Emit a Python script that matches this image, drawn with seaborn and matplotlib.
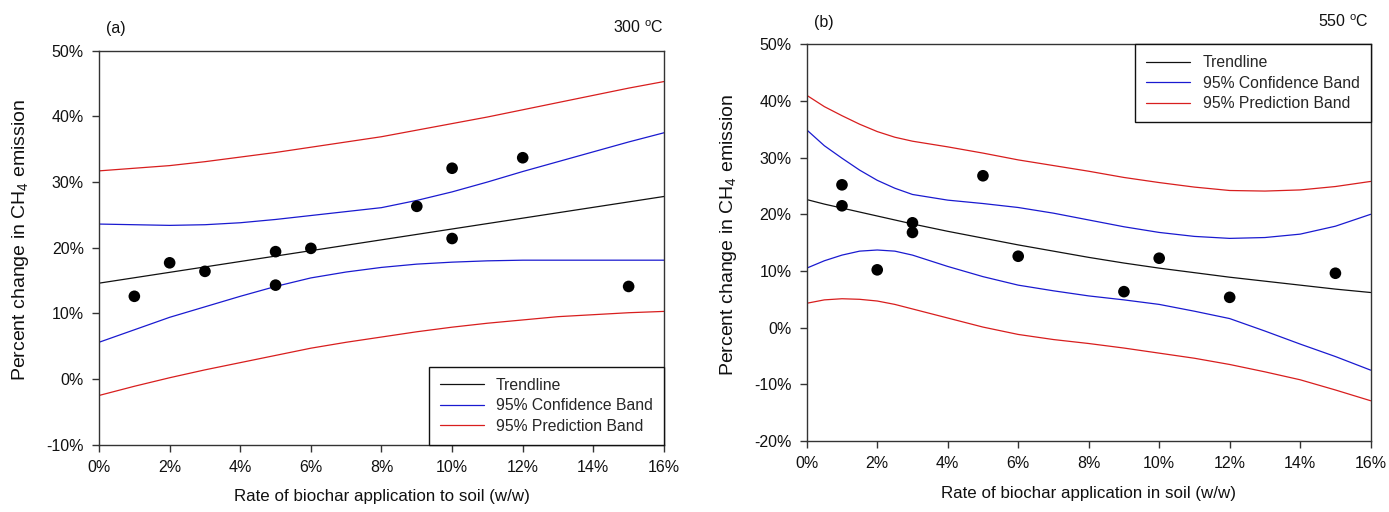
import numpy as np
import pandas as pd
import matplotlib
matplotlib.use("Agg")
import matplotlib.pyplot as plt
import seaborn as sns
from matplotlib.ticker import FuncFormatter

# ---------------- data: panel (a) 300 °C ----------------
a_pts_x = [1, 2, 3, 5, 5, 6, 9, 10, 10, 12, 15]
a_pts_y = [12.6, 17.7, 16.4, 19.4, 14.3, 19.9, 26.3, 32.1, 21.4, 33.7, 14.1]

a_trend_x = [0, 16]
a_trend_y = [14.6, 27.8]

a_band_x = [0, 1, 2, 3, 4, 5, 6, 7, 8, 9, 10, 11, 12, 13, 14, 15, 16]
a_conf_up = [23.6, 23.5, 23.4, 23.5, 23.8, 24.3, 24.9, 25.5, 26.1, 27.2, 28.5, 30.0, 31.6, 33.1, 34.6, 36.1, 37.5]
a_conf_lo = [5.6, 7.5, 9.4, 11.0, 12.6, 14.1, 15.4, 16.3, 17.0, 17.5, 17.8, 18.0, 18.1, 18.1, 18.1, 18.1, 18.1]
a_pred_up = [31.7, 32.1, 32.5, 33.1, 33.8, 34.5, 35.3, 36.1, 36.9, 37.9, 38.9, 39.9, 41.0, 42.1, 43.2, 44.3, 45.3]
a_pred_lo = [-2.5, -1.1, 0.2, 1.4, 2.5, 3.6, 4.7, 5.6, 6.4, 7.2, 7.9, 8.5, 9.0, 9.5, 9.8, 10.1, 10.3]

# ---------------- data: panel (b) 550 °C ----------------
b_pts_x = [1, 1, 2, 3, 3, 5, 6, 9, 10, 12, 15]
b_pts_y = [25.2, 21.5, 10.2, 18.5, 16.8, 26.8, 12.6, 6.35, 12.25, 5.35, 9.6]

b_band_x = [0, 0.5, 1, 1.5, 2, 2.5, 3, 4, 5, 6, 7, 8, 9, 10, 11, 12, 13, 14, 15, 16]
b_trend = [22.6, 21.8, 21.1, 20.4, 19.7, 19.0, 18.3, 17.0, 15.8, 14.6, 13.5, 12.4, 11.4, 10.5, 9.7, 8.9, 8.2, 7.5, 6.8, 6.2]
b_conf_up = [34.9, 32.1, 29.9, 27.8, 26.0, 24.6, 23.5, 22.5, 21.9, 21.2, 20.2, 19.0, 17.8, 16.8, 16.1, 15.75, 15.9, 16.5, 17.9, 20.0]
b_conf_lo = [10.5, 11.8, 12.8, 13.5, 13.7, 13.5, 12.8, 10.8, 9.0, 7.5, 6.5, 5.6, 4.9, 4.1, 2.9, 1.6, -0.6, -2.9, -5.1, -7.5]
b_pred_up = [41.0, 39.0, 37.4, 35.9, 34.6, 33.6, 32.9, 31.9, 30.8, 29.6, 28.6, 27.6, 26.5, 25.6, 24.8, 24.2, 24.1, 24.3, 24.9, 25.8]
b_pred_lo = [4.3, 4.9, 5.1, 5.0, 4.7, 4.1, 3.3, 1.7, 0.1, -1.2, -2.1, -2.8, -3.6, -4.5, -5.4, -6.5, -7.8, -9.2, -11.0, -12.9]

legend_labels = ["Trendline", "95% Confidence Band", "95% Prediction Band"]
x_ticks = [0, 2, 4, 6, 8, 10, 12, 14, 16]

# ---------------- style ----------------
sns.set_style("ticks")
FAM = ["Liberation Sans", "DejaVu Sans"]
plt.rcParams["font.family"] = FAM
plt.rcParams["mathtext.fontset"] = "custom"
plt.rcParams["mathtext.rm"] = "Liberation Sans"
plt.rcParams["mathtext.it"] = "Liberation Sans:italic"

BLACK = "#111111"
BLUE = "#1a1ad0"
RED = "#d81e1e"
SPINE = "#333333"

fig = plt.figure(figsize=(13.89, 5.12), dpi=100)
axA = fig.add_axes([0.0713, 0.1314, 0.4067, 0.7696])
axB = fig.add_axes([0.5808, 0.1387, 0.4060, 0.7748])

pct = FuncFormatter(lambda v, p: f"{v:.0f}%")


def draw(ax, px, py, tx, ty, bx, cu, cl, pu, pl, ylim, yticks, xlabel, legloc):
    lw = 0.9
    sns.lineplot(x=tx, y=ty, ax=ax, color=BLACK, lw=lw, label=legend_labels[0])
    sns.lineplot(x=bx, y=cu, ax=ax, color=BLUE, lw=lw, label=legend_labels[1])
    sns.lineplot(x=bx, y=cl, ax=ax, color=BLUE, lw=lw, label="_nolegend_")
    sns.lineplot(x=bx, y=pu, ax=ax, color=RED, lw=lw, label=legend_labels[2])
    sns.lineplot(x=bx, y=pl, ax=ax, color=RED, lw=lw, label="_nolegend_")
    sns.scatterplot(x=px, y=py, ax=ax, color="black", s=70, edgecolor="none",
                    zorder=5, label="_nolegend_")
    ax.set_xlim(0, 16)
    ax.set_ylim(*ylim)
    ax.set_xticks(x_ticks)
    ax.set_yticks(yticks)
    ax.xaxis.set_major_formatter(pct)
    ax.yaxis.set_major_formatter(pct)
    ax.tick_params(direction="out", length=5, width=1, color=SPINE,
                   labelsize=11.5, labelcolor="#111111", pad=6)
    for s in ax.spines.values():
        s.set_visible(True)
        s.set_color(SPINE)
        s.set_linewidth(1.0)
    ax.set_xlabel(xlabel, fontsize=12.2, color="#111111")
    ax.set_ylabel("Percent change in CH$_4$ emission", fontsize=14, color="#111111")
    ax.xaxis.set_label_coords(0.5, -0.113)
    ax.yaxis.set_label_coords(-0.12, 0.52)
    handles = [l for l in ax.get_lines() if not l.get_label().startswith("_")]
    leg = ax.legend(handles=handles, labels=legend_labels, loc=legloc,
                    borderaxespad=0, fancybox=False, framealpha=1,
                    edgecolor="#111111", fontsize=11.3, handlelength=2.8,
                    handletextpad=0.8, borderpad=0.7, labelspacing=0.35)
    leg.get_frame().set_linewidth(1.0)


draw(axA, a_pts_x, a_pts_y, a_trend_x, a_trend_y, a_band_x,
     a_conf_up, a_conf_lo, a_pred_up, a_pred_lo,
     (-10, 50), [-10, 0, 10, 20, 30, 40, 50],
     "Rate of biochar application to soil (w/w)", "lower right")

draw(axB, b_pts_x, b_pts_y, b_band_x, b_trend, b_band_x,
     b_conf_up, b_conf_lo, b_pred_up, b_pred_lo,
     (-20, 50), [-20, -10, 0, 10, 20, 30, 40, 50],
     "Rate of biochar application in soil (w/w)", "upper right")

fig.text(106 / 1389, 1 - 28 / 512, "(a)", fontsize=11.5, va="center", ha="left", color="#111111")
fig.text(664 / 1389, 1 - 28 / 512, "300 $^{\\mathrm{o}}$C", fontsize=11.5, va="center", ha="right", color="#111111")
fig.text(814 / 1389, 1 - 22 / 512, "(b)", fontsize=11.5, va="center", ha="left", color="#111111")
fig.text(1369 / 1389, 1 - 22 / 512, "550 $^{\\mathrm{o}}$C", fontsize=11.5, va="center", ha="right", color="#111111")

fig.savefig("out.png", dpi=100, facecolor="white")
